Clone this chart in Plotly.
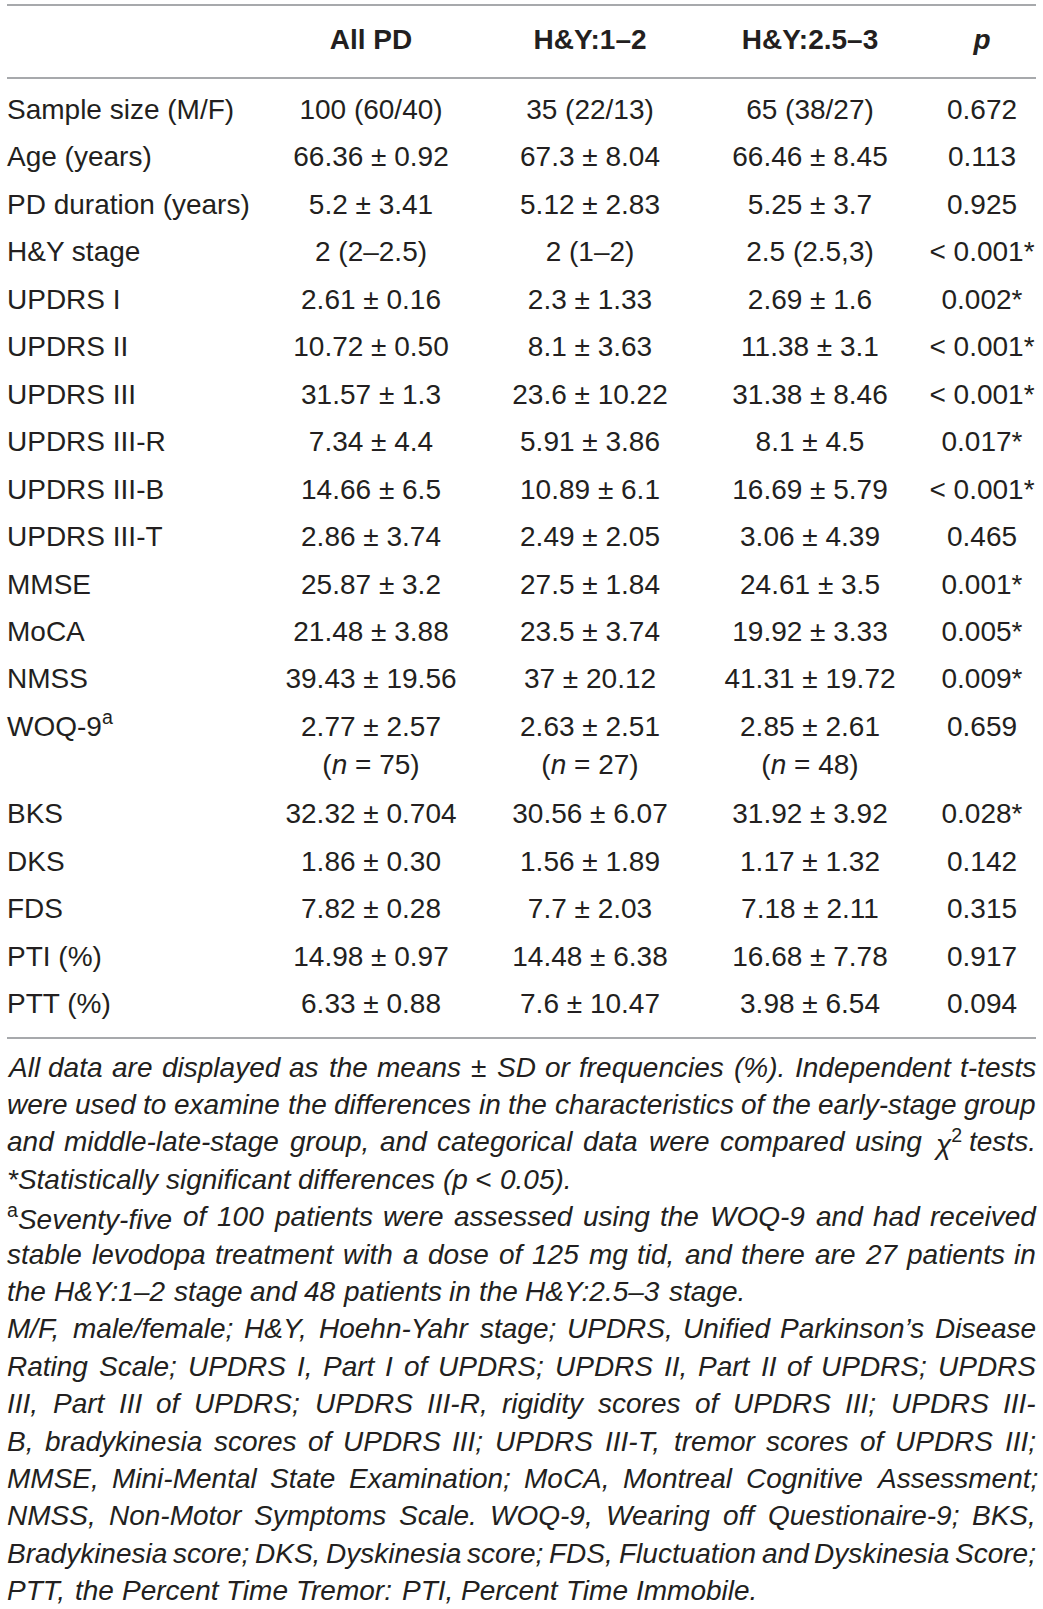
import re
import plotly.graph_objects as go

W, H = 1043, 1609
FONT = "Liberation Sans, Arial, Helvetica, sans-serif"
TXT = "#231f20"
RULE = "#a7a9ac"
FS = 28

# ---------------- data ----------------
headers = ["All PD", "H&amp;Y:1–2", "H&amp;Y:2.5–3", "<i>p</i>"]
labels = ["Sample size (M/F)", "Age (years)", "PD duration (years)", "H&amp;Y stage",
          "UPDRS I", "UPDRS II", "UPDRS III", "UPDRS III-R", "UPDRS III-B",
          "UPDRS III-T", "MMSE", "MoCA", "NMSS", "WOQ-9<sup>a</sup>", "BKS",
          "DKS", "FDS", "PTI (%)", "PTT (%)"]
all_pd = ["100 (60/40)", "66.36 ± 0.92", "5.2 ± 3.41", "2 (2–2.5)", "2.61 ± 0.16",
          "10.72 ± 0.50", "31.57 ± 1.3", "7.34 ± 4.4", "14.66 ± 6.5", "2.86 ± 3.74",
          "25.87 ± 3.2", "21.48 ± 3.88", "39.43 ± 19.56", "2.77 ± 2.57",
          "32.32 ± 0.704", "1.86 ± 0.30", "7.82 ± 0.28", "14.98 ± 0.97", "6.33 ± 0.88"]
hy_1_2 = ["35 (22/13)", "67.3 ± 8.04", "5.12 ± 2.83", "2 (1–2)", "2.3 ± 1.33",
          "8.1 ± 3.63", "23.6 ± 10.22", "5.91 ± 3.86", "10.89 ± 6.1", "2.49 ± 2.05",
          "27.5 ± 1.84", "23.5 ± 3.74", "37 ± 20.12", "2.63 ± 2.51", "30.56 ± 6.07",
          "1.56 ± 1.89", "7.7 ± 2.03", "14.48 ± 6.38", "7.6 ± 10.47"]
hy_25_3 = ["65 (38/27)", "66.46 ± 8.45", "5.25 ± 3.7", "2.5 (2.5,3)", "2.69 ± 1.6",
           "11.38 ± 3.1", "31.38 ± 8.46", "8.1 ± 4.5", "16.69 ± 5.79", "3.06 ± 4.39",
           "24.61 ± 3.5", "19.92 ± 3.33", "41.31 ± 19.72", "2.85 ± 2.61",
           "31.92 ± 3.92", "1.17 ± 1.32", "7.18 ± 2.11", "16.68 ± 7.78", "3.98 ± 6.54"]
p_values = ["0.672", "0.113", "0.925", "&lt; 0.001*", "0.002*", "&lt; 0.001*",
            "&lt; 0.001*", "0.017*", "&lt; 0.001*", "0.465", "0.001*", "0.005*",
            "0.009*", "0.659", "0.028*", "0.142", "0.315", "0.917", "0.094"]
woq_n = ["75", "27", "48"]
WOQ_ROW = 13

# footnote lines: (text, justified)
notes = [
    ("All data are displayed as the means ± SD or frequencies (%). Independent t-tests", True),
    ("were used to examine the differences in the characteristics of the early-stage group", True),
    ("and middle-late-stage group, and categorical data were compared using χ{2} tests.", True),
    ("*Statistically significant differences (p < 0.05).", False),
    ("{a}Seventy-five of 100 patients were assessed using the WOQ-9 and had received", True),
    ("stable levodopa treatment with a dose of 125 mg tid, and there are 27 patients in", True),
    ("the H&Y:1–2 stage and 48 patients in the H&Y:2.5–3 stage.", False),
    ("M/F, male/female; H&Y, Hoehn-Yahr stage; UPDRS, Unified Parkinson’s Disease", True),
    ("Rating Scale; UPDRS I, Part I of UPDRS; UPDRS II, Part II of UPDRS; UPDRS", True),
    ("III, Part III of UPDRS; UPDRS III-R, rigidity scores of UPDRS III; UPDRS III-", True),
    ("B, bradykinesia scores of UPDRS III; UPDRS III-T, tremor scores of UPDRS III;", True),
    ("MMSE, Mini-Mental State Examination; MoCA, Montreal Cognitive Assessment;", True),
    ("NMSS, Non-Motor Symptoms Scale. WOQ-9, Wearing off Questionaire-9; BKS,", True),
    ("Bradykinesia score; DKS, Dyskinesia score; FDS, Fluctuation and Dyskinesia Score;", True),
    ("PTT, the Percent Time Tremor: PTI, Percent Time Immobile.", False),
]

# ---------------- layout constants ----------------
COL_X = [371, 590, 810, 982]
LABEL_X = 7
HEADER_Y = 42
ROW_Y0 = 112
ROW_STEP = 47.45
WOQ_EXTRA = 40
SUBLINE = 38
NOTE_Y0 = 1067
NOTE_STEP = 37.4
NOTE_L, NOTE_R = 6, 1035
NOTE_FS = 28

row_y = [ROW_Y0 + i * ROW_STEP + (WOQ_EXTRA if i > WOQ_ROW else 0) for i in range(len(labels))]

fig = go.Figure()

def text_trace(xs, ys, texts, pos="middle center"):
    fig.add_trace(go.Scatter(
        x=xs, y=ys, mode="text", text=texts, textposition=pos,
        textfont=dict(family=FONT, size=FS, color=TXT),
        hoverinfo="skip", showlegend=False, cliponaxis=False))

# header
text_trace(COL_X, [HEADER_Y] * 4, ["<b>%s</b>" % h for h in headers])
# labels
text_trace([LABEL_X] * len(labels), row_y, labels, pos="middle right")
# value columns
for cx, col in zip(COL_X, [all_pd, hy_1_2, hy_25_3, p_values]):
    text_trace([cx] * len(col), row_y, col)
# WOQ-9 sample sizes
text_trace(COL_X[:3], [row_y[WOQ_ROW] + SUBLINE] * 3,
           ["(<i>n</i> = %s)" % n for n in woq_n])

# rules
bottom_rule = row_y[-1] + 32
for yy in [5, 78, bottom_rule]:
    fig.add_shape(type="line", xref="x", yref="y", x0=7, x1=1036, y0=yy, y1=yy,
                  line=dict(color=RULE, width=2))

# ---------------- justified footnote ----------------
AW = {' ': 278, '!': 278, '"': 355, '#': 556, '$': 556, '%': 889, '&': 667, "'": 191,
      '(': 333, ')': 333, '*': 389, '+': 584, ',': 278, '-': 333, '.': 278, '/': 278,
      ':': 278, ';': 278, '<': 584, '=': 584, '>': 584, '?': 556,
      'A': 667, 'B': 667, 'C': 722, 'D': 722, 'E': 667, 'F': 611, 'G': 778, 'H': 722,
      'I': 278, 'J': 500, 'K': 667, 'L': 556, 'M': 833, 'N': 722, 'O': 778, 'P': 667,
      'Q': 778, 'R': 722, 'S': 667, 'T': 611, 'U': 722, 'V': 667, 'W': 944, 'X': 667,
      'Y': 667, 'Z': 611, 'a': 556, 'b': 556, 'c': 500, 'd': 556, 'e': 556, 'f': 278,
      'g': 556, 'h': 556, 'i': 222, 'j': 222, 'k': 500, 'l': 222, 'm': 833, 'n': 556,
      'o': 556, 'p': 556, 'q': 556, 'r': 333, 's': 500, 't': 278, 'u': 556, 'v': 500,
      'w': 722, 'x': 500, 'y': 500, 'z': 500, '±': 584, '–': 556, '’': 222, 'χ': 520}
for d in "0123456789":
    AW[d] = 556

def tw(s, size):
    return sum(AW.get(c, 556) for c in s) / 1000.0 * size

def esc(s):
    return s.replace("&", "&amp;").replace("<", "&lt;")

def token(word):
    parts = re.split(r"(\{[^}]*\})", word)
    html, width = "", 0.0
    for p in parts:
        if not p:
            continue
        if p.startswith("{"):
            s = p[1:-1]
            html += "<sup>%s</sup>" % esc(s)
            width += tw(s, NOTE_FS * 0.7)
        else:
            html += "<i>%s</i>" % esc(p)
            width += tw(p, NOTE_FS)
    return html, width

for li, (line, just) in enumerate(notes):
    toks = [token(w) for w in line.split(" ")]
    total = sum(t[1] for t in toks)
    gap = tw(" ", NOTE_FS)
    if just and len(toks) > 1:
        gap = (NOTE_R - NOTE_L - total) / (len(toks) - 1)
    x = NOTE_L
    yy = NOTE_Y0 + li * NOTE_STEP
    for html, wdt in toks:
        fig.add_annotation(x=x, y=yy, xref="x", yref="y", text=html, showarrow=False,
                           xanchor="left", yanchor="middle", borderpad=0,
                           font=dict(family=FONT, size=NOTE_FS, color=TXT))
        x += wdt + gap

fig.update_layout(
    width=W, height=H, margin=dict(l=0, r=0, t=0, b=0),
    paper_bgcolor="white", plot_bgcolor="white",
    xaxis=dict(range=[0, W], visible=False, fixedrange=True),
    yaxis=dict(range=[H, 0], visible=False, fixedrange=True),
    showlegend=False,
)
fig.write_html("out.html", config={"displayModeBar": False},
               post_script="document.body.style.margin='0';document.body.style.overflow='hidden';")
